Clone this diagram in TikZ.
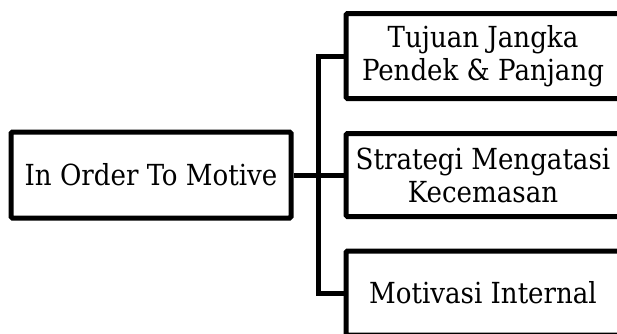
\documentclass[tikz,border=0pt]{standalone}
\usepackage{fontspec}
\setmainfont{DejaVu Serif Condensed}
\begin{document}
\begin{tikzpicture}[x=1pt,y=-1pt,
  box/.style={draw=black,line width=5pt,rounded corners=1.5pt,fill=white,
    minimum height=#1,inner sep=0pt,align=center,
    font=\fontsize{29}{33}\selectfont},
  link/.style={draw=black,line width=5pt}]
\useasboundingbox (0,0) rectangle (617,333);
\clip (0,0) rectangle (617,333);
\node[box=86pt,minimum width=280pt] (root) at (151,175) {In Order To Motive};
\node[box=85pt,minimum width=274pt] (top) at (483,56) {Tujuan Jangka\\Pendek \& Panjang};
\node[box=83pt,minimum width=274pt] (mid) at (483,175) {Strategi Mengatasi\\Kecemasan};
\node[box=84pt,minimum width=274pt] (bot) at (483,293) {Motivasi Internal};
\coordinate (tk) at (318.5,0);
\draw[link] (top.west) -- (top.west -| tk) -- (bot.west -| tk) -- (bot.west);
\draw[link] (root.east) -- (root.east -| tk);
\draw[link] (mid.west) -- (mid.west -| tk);
\end{tikzpicture}
\end{document}
